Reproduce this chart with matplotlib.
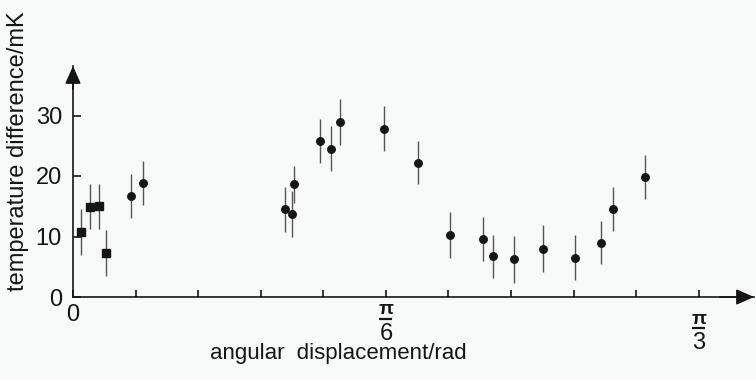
import numpy as np
import matplotlib.pyplot as plt
import matplotlib.transforms as mtransforms

plt.rcParams['font.family'] = ['Liberation Sans', 'DejaVu Sans']

sq_deg = [0.8, 1.6, 2.5, 3.2]
sq_val = [10.7, 14.9, 15.0, 7.3]
sq_err = [3.8, 3.7, 3.7, 3.8]

dot_deg = [5.6, 6.7, 20.3, 21.0, 21.2, 23.7, 24.7, 25.6, 29.8, 33.1,
           36.1, 39.3, 40.3, 42.3, 45.1, 48.1, 50.6, 51.8, 54.8]
dot_val = [16.7, 18.8, 14.5, 13.7, 18.6, 25.8, 24.5, 29.0, 27.8, 22.2,
           10.3, 9.6, 6.7, 6.2, 8.0, 6.5, 9.0, 14.5, 19.8]
dot_err = [3.7, 3.6, 3.7, 3.8, 3.0, 3.6, 3.7, 3.8, 3.7, 3.6,
           3.8, 3.7, 3.6, 3.9, 3.9, 3.7, 3.6, 3.6, 3.6]

y_ticks = [0, 10, 20, 30]
x_ticks = np.arange(11) * np.pi / 30
frac_ticks = [np.pi / 6, np.pi / 3]
frac_den = ['6', '3']

ink = '#151515'
bg = '#f8f9f9'

fig = plt.figure(figsize=(7.56, 3.80), dpi=100, facecolor=bg)
ax_h = 297 - 66
ax = fig.add_axes([73 / 756, (380 - 297) / 380, (754 - 73) / 756, ax_h / 380])
ax.set_facecolor(bg)

ax.set_xlim(0, np.radians((754 - 73) / 10.43))
ax.set_ylim(0, ax_h / 6.05)

ax.errorbar(np.radians(sq_deg), sq_val, yerr=sq_err, fmt='s', ms=6.0,
            color=ink, ecolor='#555555', elinewidth=1.0, capsize=0, clip_on=False)
ax.errorbar(np.radians(dot_deg), dot_val, yerr=dot_err, fmt='o', ms=5.4,
            color=ink, ecolor='#555555', elinewidth=1.0, capsize=0, clip_on=False)

for s in ['top', 'right']:
    ax.spines[s].set_visible(False)
for s in ['left', 'bottom']:
    ax.spines[s].set_color(ink)
    ax.spines[s].set_linewidth(1.2)

# arrow heads at the axis ends
arrow = dict(arrowstyle='-|>,head_length=0.9,head_width=0.4', mutation_scale=12,
             color=ink, lw=1.2, shrinkA=0, shrinkB=0)
ax.annotate('', xy=(1, 0), xytext=(0.95, 0), xycoords='axes fraction',
            arrowprops=arrow, annotation_clip=False)
ax.annotate('', xy=(0, 1), xytext=(0, 0.9), xycoords='axes fraction',
            arrowprops=arrow, annotation_clip=False)

ax.set_yticks(y_ticks)
ax.set_xticks(x_ticks)
ax.set_xticklabels(['0'] + [''] * 10)
ax.tick_params(axis='y', direction='in', length=6, width=1.2, color=ink,
               labelsize=17, pad=8, labelcolor=ink)
ax.tick_params(axis='x', direction='in', length=5, width=1.2, color=ink,
               labelsize=17, pad=5, labelcolor=ink)

# pi fractions under the axis
trans = mtransforms.blended_transform_factory(ax.transData, ax.transAxes)
for t, den, extra in zip(frac_ticks, frac_den, [0, 9]):
    ax.text(t, -(13 + extra) / ax_h, 'π', transform=trans, ha='center', va='center',
            fontsize=14, fontweight='bold', color=ink, clip_on=False)
    w = np.radians(6.5 / 10.43)
    ax.plot([t - w, t + w], [-(21.5 + extra) / ax_h] * 2, transform=trans,
            color=ink, lw=1.6, solid_capstyle='butt', clip_on=False)
    ax.text(t, -(37 + extra) / ax_h, den, transform=trans, ha='center', va='center',
            fontsize=17, color=ink, clip_on=False)

fig.text(338 / 756, 1 - 354 / 380, 'angular  displacement/rad', fontsize=16,
         ha='center', va='center', color=ink)
fig.text(18 / 756, 1 - 151 / 380, 'temperature difference/mK', fontsize=17,
         ha='center', va='center', rotation=90, color=ink)

fig.savefig('out.png', dpi=100, facecolor=bg)
